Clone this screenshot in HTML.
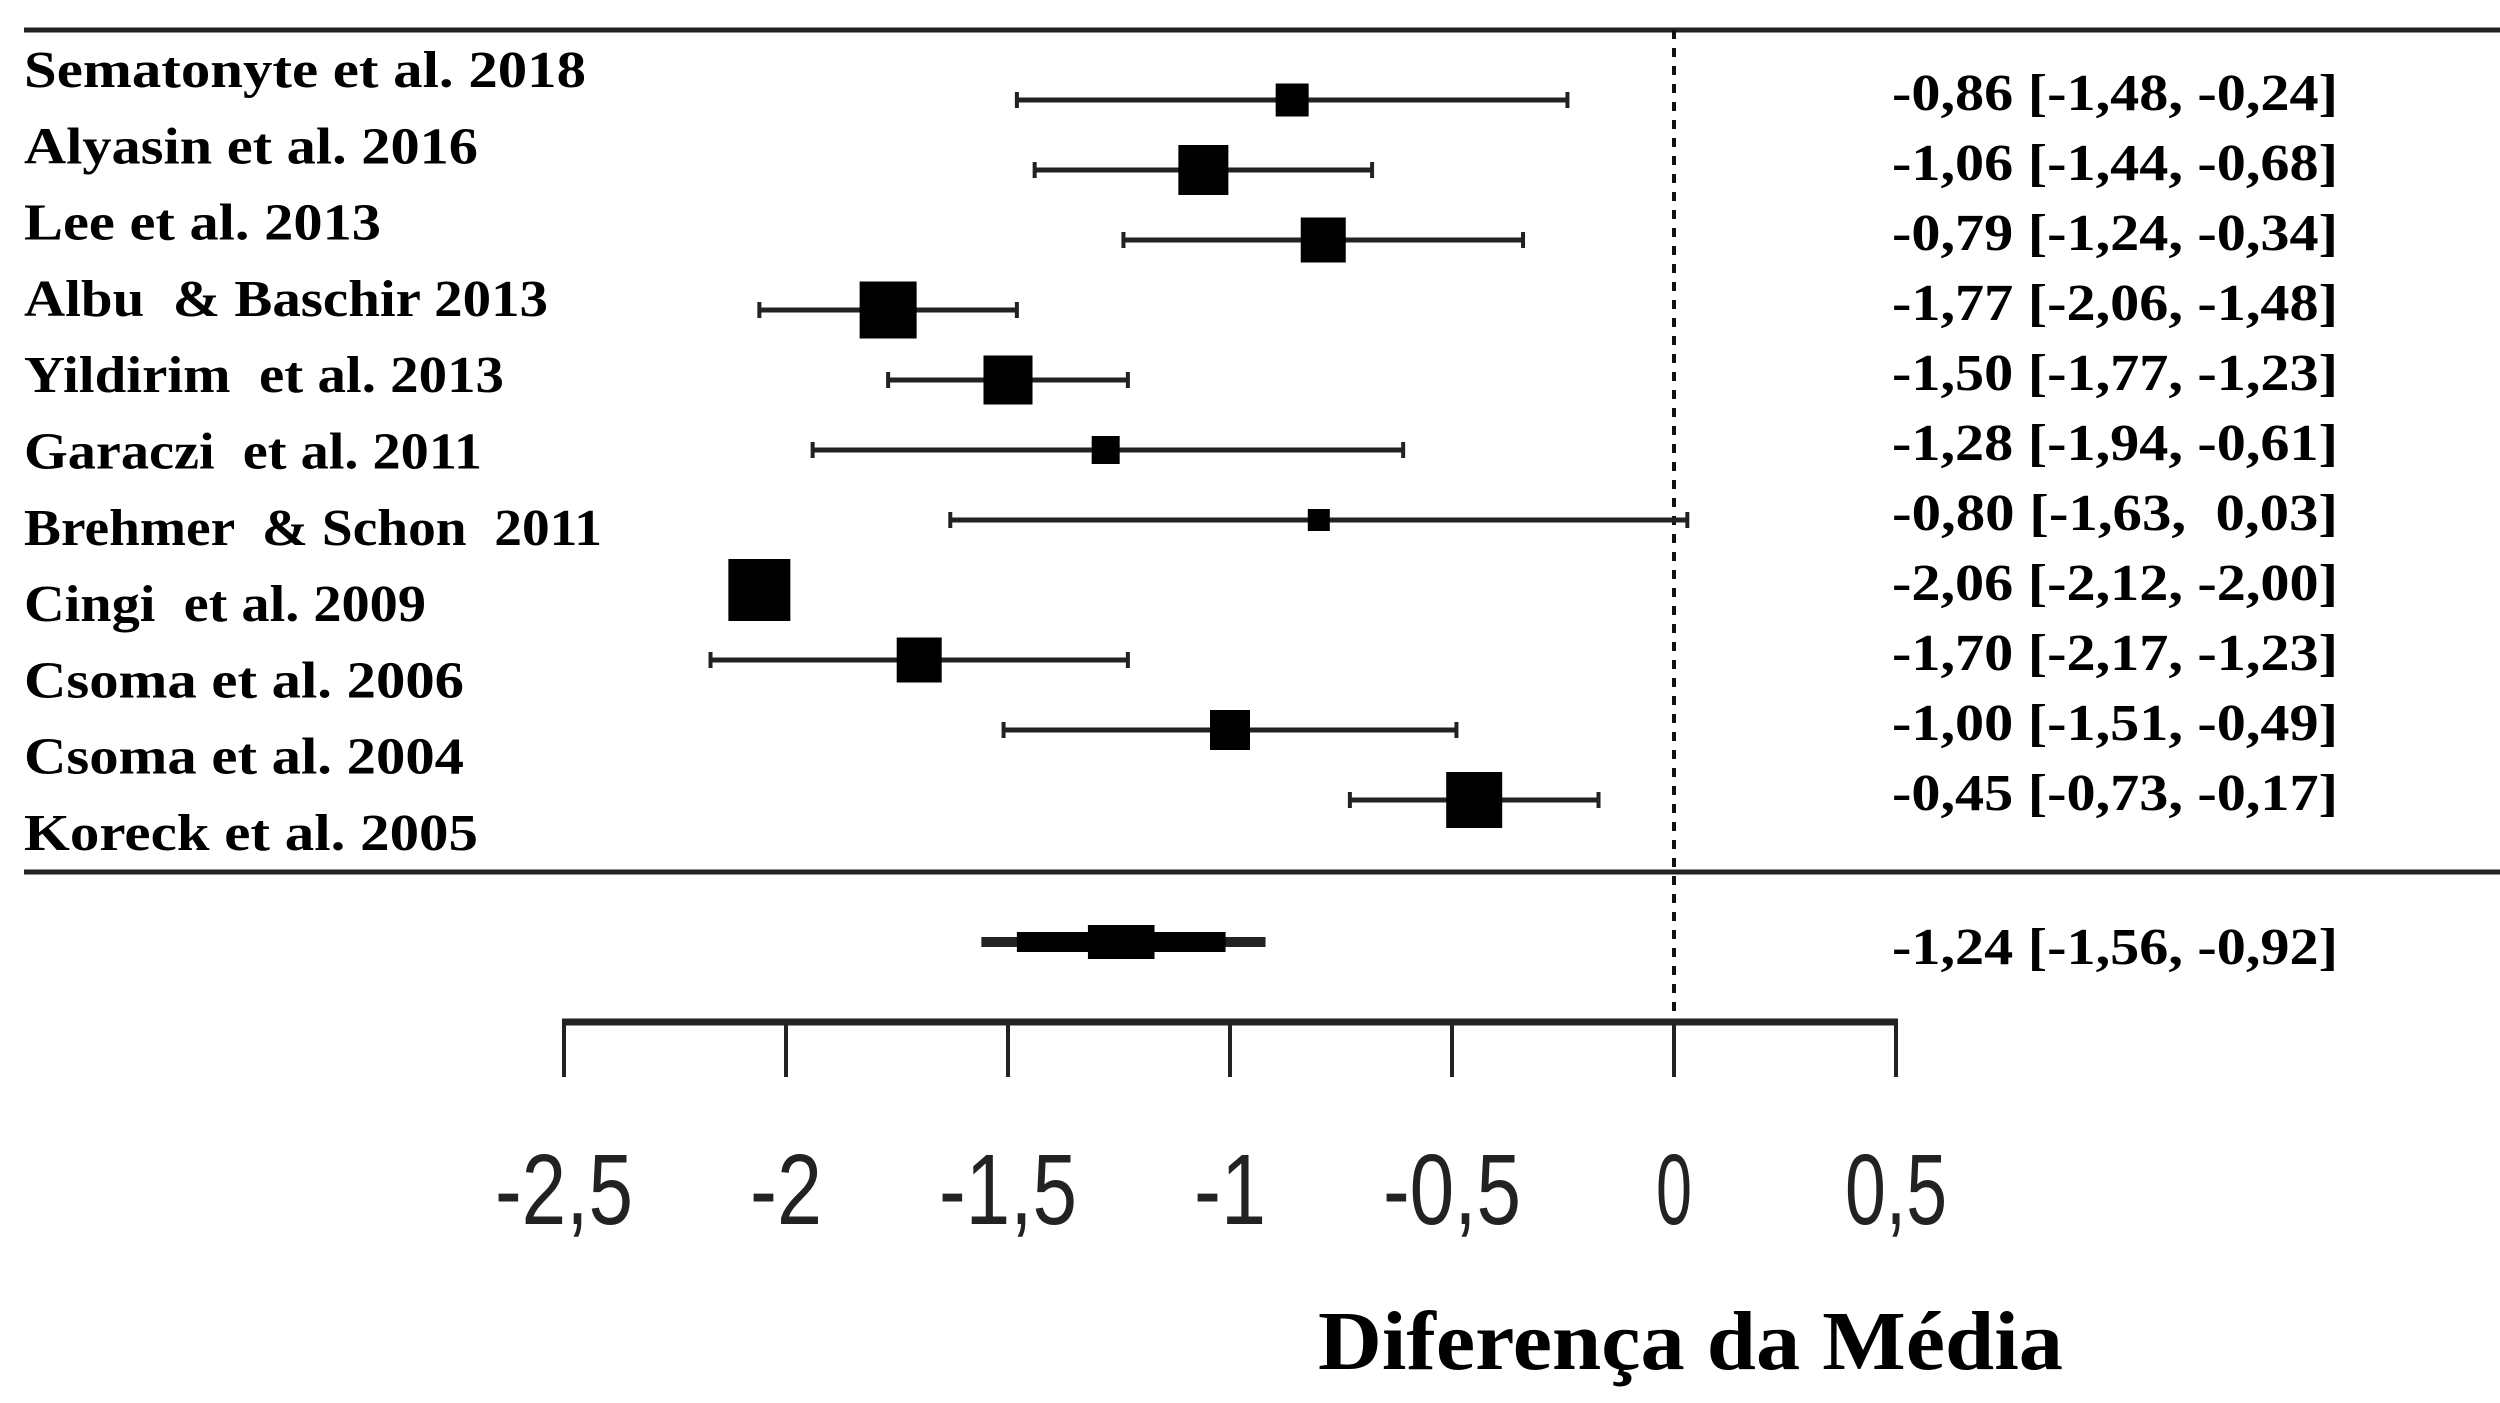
<!DOCTYPE html>
<html><head><meta charset="utf-8"><style>
html,body{margin:0;padding:0;background:#fff;}
svg{display:block;}
text{white-space:pre;}
</style></head><body>
<svg id="chart" width="2500" height="1403" viewBox="0 0 2500 1403" xmlns="http://www.w3.org/2000/svg" xml:space="preserve"></svg>
<script>
const studies = ["Sematonyte et al. 2018","Alyasin et al. 2016","Lee et al. 2013","Albu  & Baschir 2013","Yildirim  et al. 2013","Garaczi  et al. 2011","Brehmer  & Schon  2011","Cingi  et al. 2009","Csoma et al. 2006","Csoma et al. 2004","Koreck et al. 2005"];
const means = [-0.86,-1.06,-0.79,-1.77,-1.50,-1.28,-0.80,-2.06,-1.70,-1.00,-0.45];
const lower = [-1.48,-1.44,-1.24,-2.06,-1.77,-1.94,-1.63,-2.12,-2.17,-1.51,-0.73];
const upper = [-0.24,-0.68,-0.34,-1.48,-1.23,-0.61,0.03,-2.00,-1.23,-0.49,-0.17];
const weights = [33,50,45,57,49,28,22,62,45,40,56];
const ciText = ["-0,86 [-1,48, -0,24]","-1,06 [-1,44, -0,68]","-0,79 [-1,24, -0,34]","-1,77 [-2,06, -1,48]","-1,50 [-1,77, -1,23]","-1,28 [-1,94, -0,61]","-0,80 [-1,63,  0,03]","-2,06 [-2,12, -2,00]","-1,70 [-2,17, -1,23]","-1,00 [-1,51, -0,49]","-0,45 [-0,73, -0,17]"];
const labelWidths = [562,454,357,524,480,458,578,402,440,440,454];
const pooledMean = -1.24, pooledLower = -1.56, pooledUpper = -0.92;
const pooledMidLower = -1.48, pooledMidUpper = -1.01;
const pooledInnerLower = -1.32, pooledInnerUpper = -1.17;
const pooledText = "-1,24 [-1,56, -0,92]";
const ticks = [-2.5,-2,-1.5,-1,-0.5,0,0.5];
const tickLabels = ["-2,5","-2","-1,5","-1","-0,5","0","0,5"];

const NS="http://www.w3.org/2000/svg";
const svg=document.getElementById('chart');
const xs = v => 1674 + v*444;
const rowY = i => 100 + i*70;
const labelY = i => 87 + i*76.3;
function mk(tag, attrs, parent){const e=document.createElementNS(NS,tag);for(const k in attrs)e.setAttribute(k,attrs[k]);(parent||svg).appendChild(e);return e;}

let e;
e=mk('line',{x1:24,y1:30,x2:2500,y2:30,stroke:'#222','stroke-width':5});


e=mk('line',{x1:24,y1:872,x2:2500,y2:872,stroke:'#222','stroke-width':5});


e=mk('line',{x1:xs(0),y1:30,x2:xs(0),y2:1022,stroke:'#111','stroke-width':4,'stroke-dasharray':'9 9'});



studies.forEach((s,i)=>{
  const g=mk('g',{});
  
  
  let t=mk('text',{x:24,y:labelY(i),'font-family':'"Liberation Serif",serif','font-weight':'bold','font-size':52,fill:'#000',textLength:labelWidths[i],lengthAdjust:'spacingAndGlyphs'},g);
  t.textContent=s;
  
  
  const y=rowY(i);
  let l=mk('line',{x1:xs(lower[i]),y1:y,x2:xs(upper[i]),y2:y,stroke:'#222','stroke-width':5},g);
  
  
  [lower[i],upper[i]].forEach(v=>{
    let c=mk('line',{x1:xs(v),y1:y-8,x2:xs(v),y2:y+8,stroke:'#222','stroke-width':4},g);
    
    
  });
  const w=weights[i];
  let r=mk('rect',{x:xs(means[i])-w/2,y:y-w/2,width:w,height:w,fill:'#000'},g);
  
  
  let v=mk('text',{x:1892,y:y+10,'font-family':'"Liberation Serif",serif','font-weight':'bold','font-size':52,fill:'#000',textLength:446,lengthAdjust:'spacingAndGlyphs'},g);
  v.textContent=ciText[i];
  
  
});

const pg=mk('g',{});


const py=942;
e=mk('rect',{x:xs(pooledLower),y:py-5,width:xs(pooledUpper)-xs(pooledLower),height:10,fill:'#222'},pg);


e=mk('rect',{x:xs(pooledMidLower),y:py-10,width:xs(pooledMidUpper)-xs(pooledMidLower),height:20,fill:'#000'},pg);


e=mk('rect',{x:xs(pooledInnerLower),y:py-17,width:xs(pooledInnerUpper)-xs(pooledInnerLower),height:34,fill:'#000'},pg);


e=mk('text',{x:1892,y:964,'font-family':'"Liberation Serif",serif','font-weight':'bold','font-size':52,fill:'#000',textLength:446,lengthAdjust:'spacingAndGlyphs'},pg);
e.textContent=pooledText;



const ag=mk('g',{});


e=mk('line',{x1:xs(ticks[0])-2,y1:1022,x2:xs(ticks[ticks.length-1])+2,y2:1022,stroke:'#222','stroke-width':7},ag);


ticks.forEach((t,i)=>{
  let l=mk('line',{x1:xs(t),y1:1020,x2:xs(t),y2:1077,stroke:'#222','stroke-width':4},ag);
  
  
  const lbl=tickLabels[i];
  const tw = lbl.length*36 + (lbl.indexOf(',')>=0 ? -6 : 0);
  let tx=mk('text',{x:xs(t),y:1224,'text-anchor':'middle','font-family':'"Liberation Sans",sans-serif','font-size':100,fill:'#222',textLength:tw,lengthAdjust:'spacingAndGlyphs'},ag);
  tx.textContent=lbl;
  
  
});
e=mk('text',{x:1318,y:1369,'font-family':'"Liberation Serif",serif','font-weight':'bold','font-size':84,fill:'#000',textLength:745,lengthAdjust:'spacingAndGlyphs'});
e.textContent='Diferença da Média';


</script>
</body></html>
